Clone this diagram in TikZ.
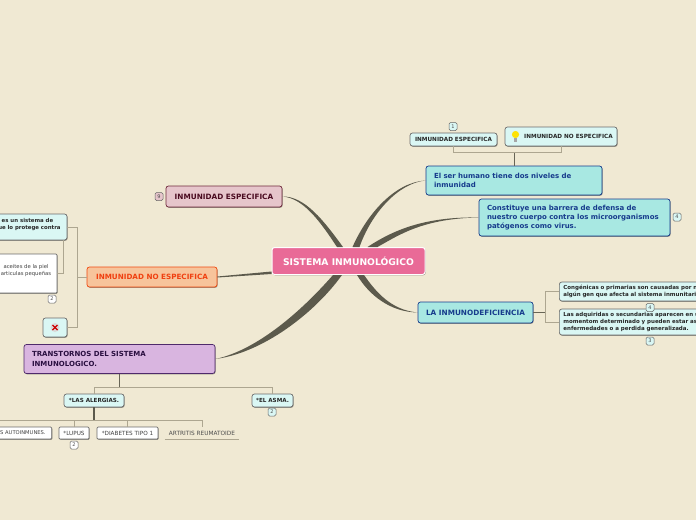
\documentclass[tikz,border=0pt]{standalone}
\usepackage{fontspec}
\setmainfont{DejaVu Sans}
\usetikzlibrary{shadows}
\definecolor{paper}{HTML}{F0E9D3}
\definecolor{limb}{HTML}{5C5A4C}
\definecolor{twig}{HTML}{ADA690}
\definecolor{navy}{HTML}{163B8C}
\tikzset{
  card/.style={draw, rounded corners=2.5pt, line width=0.7pt, drop shadow={shadow xshift=0.6pt, shadow yshift=-0.8pt, opacity=0.4, fill=black}},
  bigcyan/.style={card, fill={rgb,255:red,168;green,232;blue,226}, draw=navy, text=navy, font=\bfseries\fontsize{7}{9}\selectfont, align=left, inner xsep=8pt, inner ysep=0pt},
  smallcyan/.style={card, fill={rgb,255:red,218;green,247;blue,244}, draw=gray!85!black, text=black!85, font=\bfseries\fontsize{5.7}{7}\selectfont, inner sep=0pt},
  whitebox/.style={card, rounded corners=1pt, fill=white, draw=gray!85!black, text=black!75, font=\fontsize{5.7}{7}\selectfont, inner sep=0pt},
  badge/.style={draw=gray!80!black, rounded corners=1.5pt, line width=0.5pt, fill={rgb,255:red,218;green,247;blue,244}, font=\fontsize{5}{5}\selectfont, text=black!70, minimum width=8pt, minimum height=8pt, inner sep=0pt},
  limbfill/.style={fill=limb, draw=none},
  twigline/.style={draw=twig, line width=0.9pt},
  stemline/.style={draw=limb!85!twig, line width=1pt}
}
\begin{document}
\begin{tikzpicture}[x=1pt, y=-1pt]
    \useasboundingbox (0,0) rectangle (696,520);
    \fill[paper] (0,0) rectangle (696,520);
    % main topics
    \node[card, fill={rgb,255:red,233;green,106;blue,151}, draw=white, line width=1pt, text=white, font=\bfseries\fontsize{9.2}{11}\selectfont, minimum width=153pt, minimum height=27pt, inner sep=0pt] (root) at (348.5,261) {SISTEMA INMUNOLÓGICO};
    \node[bigcyan, text width=160pt, minimum height=29pt] (levels) at (514,180.5) {El ser humano tiene dos niveles de\\inmunidad};
    \node[bigcyan, text width=175pt, minimum height=37pt] (barrier) at (574.5,217.5) {Constituye una barrera de defensa de\\nuestro cuerpo contra los microorganismos\\patógenos como virus.};
    \node[bigcyan, align=center, inner xsep=0pt, font=\bfseries\fontsize{7.3}{9}\selectfont, minimum width=115pt, minimum height=21pt] (deficiency) at (475.5,312.5) {LA INMUNODEFICIENCIA};
    \node[card, fill={rgb,255:red,230;green,197;blue,203}, draw={rgb,255:red,112;green,42;blue,60}, text={rgb,255:red,74;green,10;blue,32}, font=\bfseries\fontsize{7.3}{9}\selectfont, minimum width=116pt, minimum height=21pt, inner sep=0pt] (specific) at (224,196.5) {INMUNIDAD ESPECIFICA};
    \node[card, fill={rgb,255:red,247;green,196;blue,155}, draw={rgb,255:red,240;green,74;blue,16}, text={rgb,255:red,240;green,64;blue,16}, font=\bfseries\fontsize{7.2}{9}\selectfont, minimum width=130pt, minimum height=20pt, inner sep=0pt] (nonspecific) at (152,277) {INMUNIDAD NO ESPECIFICA};
    \node[card, fill={rgb,255:red,217;green,181;blue,224}, draw={rgb,255:red,79;green,42;blue,107}, text={rgb,255:red,42;green,15;blue,64}, font=\bfseries\fontsize{7}{10}\selectfont, align=left, text width=175pt, inner xsep=8pt, inner ysep=0pt, minimum height=29pt] (disorders) at (119.5,359) {TRANSTORNOS DEL SISTEMA\\INMUNOLOGICO.};
    % tapered branches
    \fill[limbfill] ([xshift=-11.5pt]root.north) .. controls (321,223) and (304,198) .. (specific.east) .. controls (305,196) and (324,221) .. ([xshift=-5.5pt]root.north) -- cycle;
    \fill[limbfill] ([xshift=4pt]root.north) .. controls (368,212) and (396,182) .. (levels.west) .. controls (398,183) and (371,214) .. ([xshift=11pt]root.north) -- cycle;
    \fill[limbfill] ([xshift=19pt]root.north) .. controls (392,231) and (423,216.5) .. (barrier.west) .. controls (423,218.5) and (399,235) .. ([xshift=29pt]root.north) -- cycle;
    \fill[limbfill] ([xshift=8.5pt]root.south) .. controls (369,295) and (390,312) .. (deficiency.west) .. controls (391,310) and (376,292) .. ([xshift=15.5pt]root.south) -- cycle;
    \fill[limbfill] ([xshift=-15.5pt]root.south) .. controls (306,306) and (260,349.5) .. (disorders.east) .. controls (262,353) and (314,314) .. ([xshift=-6.5pt]root.south) -- cycle;
    \fill[limbfill] ([yshift=1pt]root.south west) -- ([yshift=-0.5pt]nonspecific.east) -- ([yshift=0.5pt]nonspecific.east) -- ([yshift=3.5pt]root.south west) -- cycle;
    % upper right
    \node[smallcyan, minimum width=87pt, minimum height=13pt] (spec2) at (453.5,139.5) {INMUNIDAD ESPECIFICA};
    \node[smallcyan, minimum width=112pt, minimum height=19pt, text depth=0pt] (nonspec2) at (561,136.5) {\hspace{15pt}INMUNIDAD NO ESPECIFICA};
    \fill[yellow!85!orange] (515.5,134.5) circle (3.6pt);
    \fill[gray!70] (513.8,138) rectangle (517.2,141.5);
    \coordinate (forktop) at (levels.north |- 0,152);
    \draw[stemline] (levels.north) -- (forktop);
    \draw[twigline] (forktop) -| (spec2.south);
    \draw[twigline] (forktop) -| (nonspec2.south);
    \node[badge] (b1) at (453,126.5) {1};
    \node[badge] (b2) at (677,217) {4};
    % right, cut by the page
    \node[smallcyan, anchor=west, align=left, font=\bfseries\fontsize{5.5}{7}\selectfont, text width=190pt, inner xsep=4pt, minimum height=19pt] (congenital) at (559,291.5) {Congénicas o primarias son causadas por n\\algún gen que afecta al sistema inmunitari};
    \node[smallcyan, anchor=west, align=left, font=\bfseries\fontsize{5.5}{7}\selectfont, text width=190pt, inner xsep=4pt, minimum height=26pt] (acquired) at (559,322) {Las adquiridas o secundarias aparecen en u\\momentom determinado y pueden estar as\\enfermedades o a perdida generalizada.};
    \coordinate (forkright) at (545,312.5);
    \draw[stemline] (deficiency.east) -- (forkright);
    \draw[twigline] (forkright) |- (congenital.west);
    \draw[twigline] (forkright) |- (acquired.west);
    \node[badge] (b3) at (650,307.5) {4};
    \node[badge] (b4) at (650,341) {3};
    \node[badge, fill={rgb,255:red,230;green,197;blue,203}] (b5) at (159,196.5) {9};
    % left, cut by the page
    \node[smallcyan, align=center, font=\bfseries\fontsize{5.4}{6.5}\selectfont, minimum width=79pt, minimum height=26pt] (system) at (27.5,227) {es un sistema de\\que lo protege contra\\\mbox{}};
    \node[whitebox, align=center, font=\fontsize{5.3}{7}\selectfont, minimum width=62pt, minimum height=39pt, text depth=0pt] (oils) at (26,273.5) {aceites de la piel\\articulas pequeñas\\\mbox{}};
    \node[smallcyan, minimum width=24pt, minimum height=19pt] (cross) at (55,327.5) {};
    \fill[gray!30] (cross.center) circle (4.5pt);
    \draw[red!80!black, line width=1.2pt] ([shift={(-2.5pt,-2.5pt)}]cross.center) -- ([shift={(2.5pt,2.5pt)}]cross.center);
    \draw[red!80!black, line width=1.2pt] ([shift={(-2.5pt,2.5pt)}]cross.center) -- ([shift={(2.5pt,-2.5pt)}]cross.center);
    \coordinate (forkleft) at (77,277);
    \draw[twigline] (nonspecific.west) -- (forkleft);
    \draw[twigline] (forkleft) |- (system.east);
    \draw[twigline] (forkleft) |- (cross.east);
    \coordinate (oilsdrop) at (63,240);
    \draw[twigline] (oilsdrop) |- (oils.east);
    \node[badge, fill=white] (b6) at (52,299) {2};
    % lower left
    \node[smallcyan, font=\bfseries\fontsize{5.6}{7}\selectfont, minimum width=60pt, minimum height=13pt] (allergy) at (94,400.5) {*LAS ALERGIAS.};
    \node[smallcyan, font=\bfseries\fontsize{5.6}{7}\selectfont, minimum width=41pt, minimum height=13pt] (asthma) at (272.5,400.5) {*EL ASMA.};
    \coordinate (forkdown) at (disorders.south |- 0,387);
    \draw[stemline] (disorders.south) -- (forkdown);
    \draw[twigline] (forkdown) -| (allergy.north);
    \draw[twigline] (forkdown) -| (asthma.north);
    \node[badge] (b7) at (272,412) {2};
    \node[whitebox, anchor=east, align=right, font=\fontsize{5.2}{7}\selectfont, text width=111pt, inner xsep=6pt, minimum height=12pt] (autoimmune) at (52,433) {S AUTOINMUNES.};
    \node[whitebox, minimum width=30pt, minimum height=12pt] (lupus) at (74,433) {*LUPUS};
    \node[whitebox, minimum width=61pt, minimum height=12pt] (diabetes) at (127.5,433) {*DIABETES TIPO 1};
    \node[text=black!70, font=\fontsize{5.8}{7}\selectfont, minimum width=74pt, minimum height=12pt, inner sep=0pt] (arthritis) at (202,433) {ARTRITIS REUMATOIDE};
    \draw[twigline] (arthritis.south west) -- (arthritis.south east);
    \coordinate (forklow) at (allergy.south |- 0,420);
    \draw[limb, line width=1.3pt] (allergy.south) -- (forklow);
    \draw[twigline] (forklow) -| (autoimmune.north);
    \draw[twigline] (forklow) -| (lupus.north);
    \draw[twigline] (forklow) -| (diabetes.north);
    \draw[twigline] (forklow) -| (arthritis.north);
    \node[badge, fill=white] (b8) at (74,445) {2};
\end{tikzpicture}
\end{document}
